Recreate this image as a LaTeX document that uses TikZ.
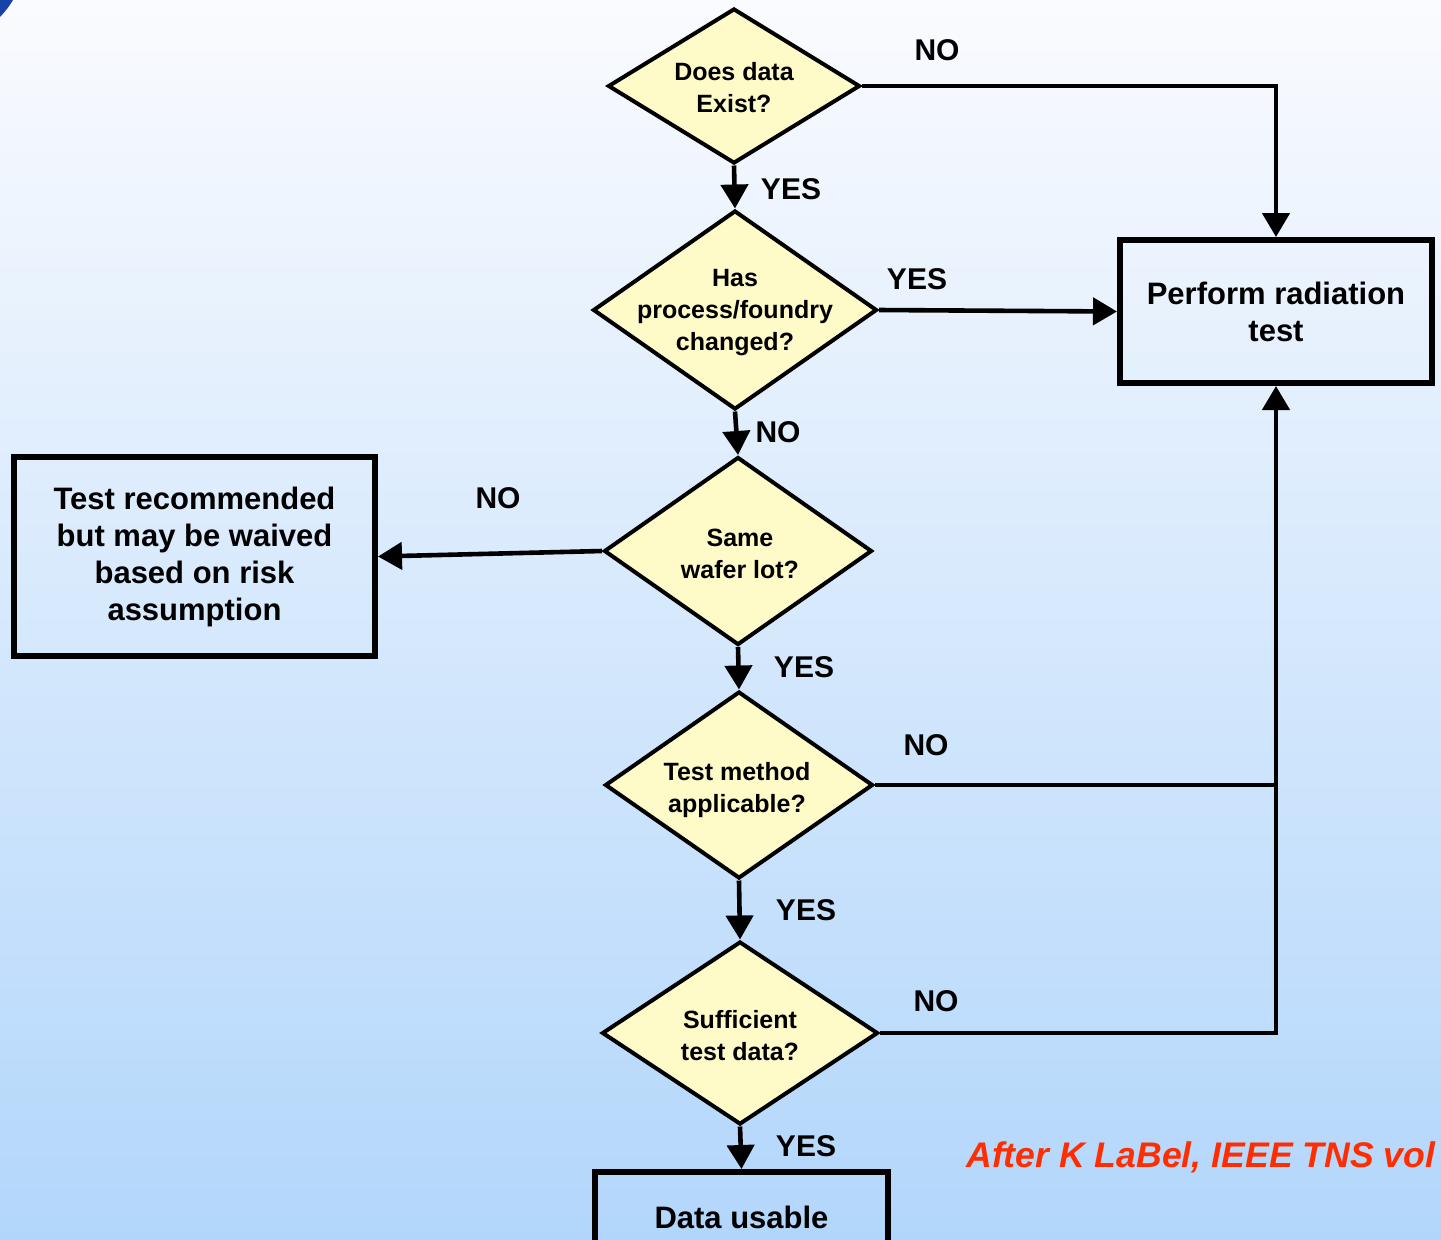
\documentclass[tikz,border=0pt]{standalone}
\usepackage{fontspec}
\setmainfont{Liberation Sans}
\usetikzlibrary{shapes.geometric,arrows.meta}
\definecolor{bgtop}{RGB}{250,251,254}
\definecolor{bgbot}{RGB}{178,214,251}
\definecolor{decfill}{RGB}{255,251,200}
\definecolor{credit}{RGB}{255,45,0}
\definecolor{cornerblue}{RGB}{25,65,170}
\begin{document}
\begin{tikzpicture}[x=0.5pt,y=-0.5pt,
  decision/.style={diamond, draw=black, line width=2pt, fill=decfill, inner sep=0pt},
  qtext/.style={font=\fontsize{12.5}{16}\selectfont\bfseries, align=center, inner sep=0pt},
  actbox/.style={rectangle, draw=black, line width=3pt, inner sep=0pt,
    font=\fontsize{15.5}{18.5}\selectfont\bfseries, align=center},
  ans/.style={font=\fontsize{15}{18}\selectfont\bfseries, inner sep=0pt},
  flow/.style={line width=2.3pt, -{Triangle[width=13.5pt,length=12pt]}},
  wire/.style={line width=2.3pt}]

% page and background
\useasboundingbox (0,0) rectangle (1441,1239);
\shade[top color=bgtop, bottom color=bgbot] (0,0) rectangle (1441,1239);
\fill[cornerblue] (0,0) -- (13,0) .. controls (8,8) .. (0,17) -- cycle;

% decisions
\node[decision, minimum width=126pt, minimum height=77.5pt] (d1) at (734,86) {};
\node[qtext] (d1t) at (734,88) {Does data\\Exist?};
\node[decision, minimum width=142pt, minimum height=99.5pt] (d2) at (735,310) {};
\node[qtext] (d2t) at (735,313) {Has\\process/foundry\\changed?};
\node[decision, minimum width=134pt, minimum height=94pt] (d3) at (738,551) {};
\node[qtext] (d3t) at (740,553.5) {Same\\wafer lot?};
\node[decision, minimum width=134pt, minimum height=93.5pt] (d4) at (739,785) {};
\node[qtext] (d4t) at (737,790) {Test method\\applicable?};
\node[decision, minimum width=138pt, minimum height=91.5pt] (d5) at (740,1033) {};
\node[qtext] (d5t) at (740,1035.5) {Sufficient\\test data?};

% outcomes
\node[actbox, minimum width=156pt, minimum height=71.5pt] (prt) at (1276,311.5) {Perform radiation\\test};
\node[actbox, minimum width=180.5pt, minimum height=99.5pt] (trb) at (194.5,556.5)
  {Test recommended\\but may be waived\\based on risk\\assumption};
\node[actbox, minimum width=146.5pt, minimum height=45pt] (du) at (741.5,1217) {Data usable};

% connectors
\coordinate (j1) at (1278,785);
\draw[flow] (d1.south) -- (d2.north);
\draw[flow] (d2.south) -- (d3.north);
\draw[flow] (d3.south) -- (d4.north);
\draw[flow] (d4.south) -- (d5.north);
\draw[flow] (d5.south) -- (du.north);
\draw[flow] (d1.east) -| (prt.north);
\draw[flow] (d2.east) -- (prt.west);
\draw[flow] (d3.west) -- (trb.east);
\draw[wire] (d4.east) -- (j1);
\draw[flow] (d5.east) -| (prt.south);

% answer labels
\node[ans] (l1) at (937,50) {NO};
\node[ans] (l2) at (791,189) {YES};
\node[ans] (l3) at (917,279) {YES};
\node[ans] (l4) at (778,432) {NO};
\node[ans] (l5) at (498,498) {NO};
\node[ans] (l6) at (804,667) {YES};
\node[ans] (l7) at (926,745) {NO};
\node[ans] (l8) at (806,910) {YES};
\node[ans] (l9) at (936,1001) {NO};
\node[ans] (l10) at (806,1146) {YES};

% source note
\node[anchor=base west, inner sep=0pt, text=credit,
  font=\fontsize{17.8}{20}\selectfont\bfseries\itshape] (src) at (966,1167)
  {After K LaBel, IEEE TNS vol};
\end{tikzpicture}
\end{document}
